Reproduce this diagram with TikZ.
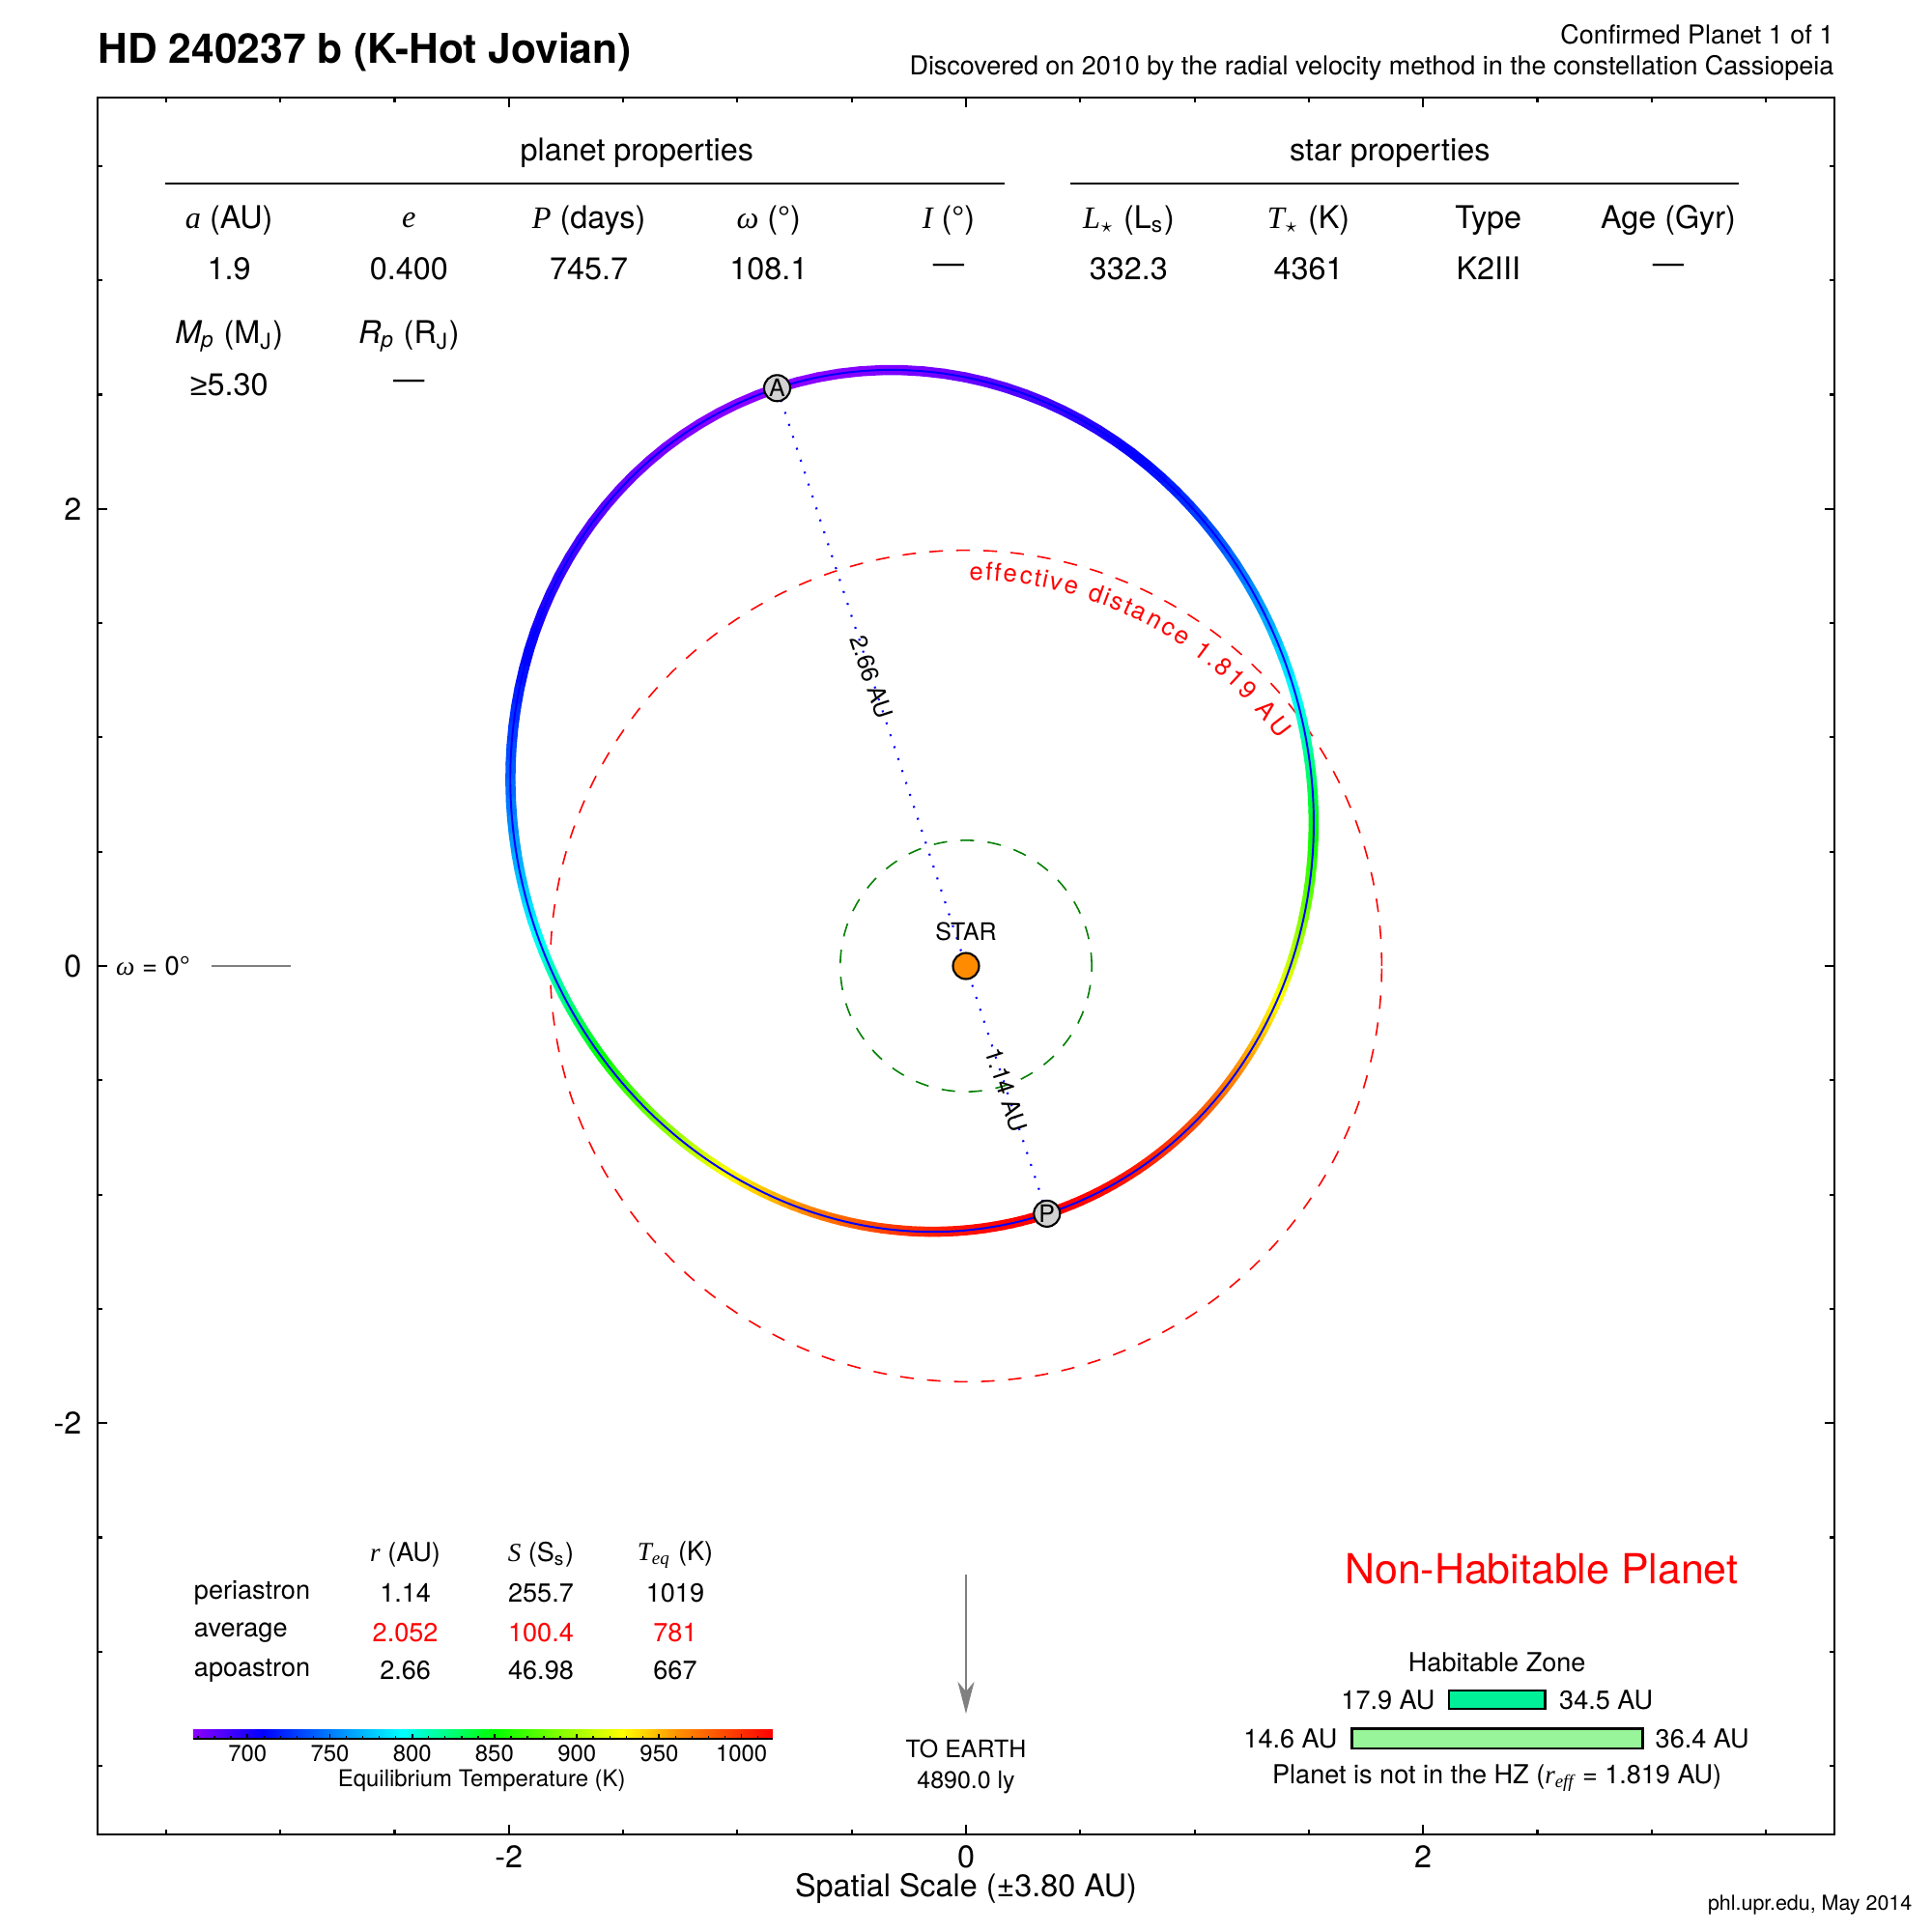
\documentclass[tikz,border=0pt]{standalone}
\usepackage{fontspec}
\setmainfont{TeX Gyre Heros}
\newfontfamily\tms{Liberation Serif}
\newfontfamily\lsans{Liberation Sans}
\usetikzlibrary{arrows.meta,decorations.text}
\newcommand{\tvar}[1]{{\tms\itshape #1}}
\definecolor{hzin}{rgb}{0,0.94,0.6}
\definecolor{hzout}{rgb}{0.6,0.96,0.6}
\definecolor{starorange}{rgb}{1,0.55,0}
\definecolor{dashgreen}{rgb}{0,0.5,0}
\pgfdeclarehorizontalshading{tempbar}{100bp}{rgb(0bp)=(0.55,0,1); rgb(25bp)=(0.55,0,1); rgb(31bp)=(0,0,1); rgb(43bp)=(0,1,1); rgb(51bp)=(0,1,0); rgb(62bp)=(1,1,0); rgb(67bp)=(1,0.55,0); rgb(75bp)=(1,0,0); rgb(100bp)=(1,0,0)}
\begin{document}
\begin{tikzpicture}
\tikzstyle{every node}=[inner sep=0pt]
\tikzstyle{txtL}=[font=\fontsize{9.2}{11}\selectfont]
\tikzstyle{txtM}=[font=\fontsize{7.7}{9}\selectfont]
\tikzstyle{txtS}=[font=\fontsize{7.1}{8.5}\selectfont]
\tikzstyle{txtXS}=[font=\fontsize{6.8}{8}\selectfont]
\tikzstyle{tick}=[line width=0.6pt]
\tikzstyle{band}=[line width=0.105cm,line cap=round]
\tikzstyle{orbitline}=[blue,line width=0.55pt]
\tikzstyle{effdash}=[red,line width=0.45pt,dash pattern=on 0.14cm off 0.14cm]
\tikzstyle{innerdash}=[dashgreen,line width=0.45pt,dash pattern=on 0.14cm off 0.14cm]
\tikzstyle{apline}=[blue,line width=0.6pt,dash pattern=on 0.02cm off 0.11cm]
\tikzstyle{marker}=[circle,draw,fill=gray!35,line width=0.6pt,minimum size=0.27cm,font=\fontsize{7.1}{8.5}\selectfont]
\tikzstyle{starball}=[circle,draw,fill=starorange,line width=0.6pt,minimum size=0.27cm]
\tikzstyle{hzbox}=[draw,line width=0.8pt]
\useasboundingbox (-10,-10) rectangle (10,10);
\fill[white] (-10,-10) rectangle (10,10);
\draw[line width=0.75pt] (-8.99,-8.99) rectangle (8.99,8.99);
\foreach \t in {-8.281,-7.098,-5.915,-3.549,-2.366,-1.183,1.183,2.366,3.549,5.915,7.098,8.281}{
\draw[tick] (\t,-8.99) -- ++(0,0.05);
\draw[tick] (\t,8.99) -- ++(0,-0.05);
\draw[tick] (-8.99,\t) -- ++(0.05,0);
\draw[tick] (8.99,\t) -- ++(-0.05,0);
}
\foreach \t in {-4.732,0,4.732}{
\draw[tick] (\t,-8.99) -- ++(0,0.1);
\draw[tick] (\t,8.99) -- ++(0,-0.1);
\draw[tick] (-8.99,\t) -- ++(0.1,0);
\draw[tick] (8.99,\t) -- ++(-0.1,0);
}
\path (-4.732,-9.22) node[txtL] (x0) {-2};
\path (0,-9.22) node[txtL] (x1) {0};
\path (4.732,-9.22) node[txtL] (x2) {2};
\path (-9.15,4.732) node[txtL,anchor=east] (y0) {2};
\path (-9.15,0) node[txtL,anchor=east] (y1) {0};
\path (-9.15,-4.732) node[txtL,anchor=east] (y2) {-2};
\path (0,-9.553) node[txtL] (x3) {Spatial Scale (±3.80 AU)};
\path (9.80,-9.72) node[anchor=east,font=\fontsize{6.1}{7}\selectfont] (f0) {phl.upr.edu, May 2014};
\path (-8.99,9.464) node[anchor=west,font=\fontsize{12.1}{14}\selectfont\bfseries] (t0) {HD 240237 b (K-Hot Jovian)};
\path (8.99,9.643) node[anchor=east,font=\fontsize{7.67}{9}\selectfont] (t1) {Confirmed Planet 1 of 1};
\path (8.99,9.298) node[anchor=east,font=\fontsize{7.67}{9}\selectfont] (t2) {Discovered on 2010 by the radial velocity method in the constellation Cassiopeia};
\path (-3.406,8.418) node[txtL] (p0) {planet properties};
\draw[line width=0.75pt] (-8.29,8.10) -- (0.40,8.10);
\path (4.388,8.418) node[txtL] (s0) {star properties};
\draw[line width=0.75pt] (1.084,8.10) -- (7.997,8.10);
\path (-7.628,7.717) node[txtL] (p1) {\tvar{a} (AU)};
\path (-5.766,7.717) node[txtL] (p2) {\tvar{e}};
\path (-3.904,7.717) node[txtL] (p3) {\tvar{P} (days)};
\path (-2.042,7.717) node[txtL] (p4) {\tvar{ω} (°)};
\path (-0.180,7.717) node[txtL] (p5) {\tvar{I} (°)};
\path (-7.628,7.22) node[txtL] (p6) {1.9};
\path (-5.766,7.22) node[txtL] (p7) {0.400};
\path (-3.904,7.22) node[txtL] (p8) {745.7};
\path (-2.042,7.22) node[txtL] (p9) {108.1};
\path (-0.180,7.22) node[txtL] (p10) {—};
\path (-7.628,6.518) node[txtL] (p11) {{\itshape M\textsubscript{p}} (M\textsubscript{J})};
\path (-5.766,6.518) node[txtL] (p12) {{\itshape R\textsubscript{p}} (R\textsubscript{J})};
\path (-7.628,6.02) node[txtL] (p13) {{\lsans ≥}5.30};
\path (-5.766,6.02) node[txtL] (p14) {—};
\path (1.684,7.717) node[txtL] (s1) {\tvar{L}\textsubscript{$\star$} (L\textsubscript{s})};
\path (3.546,7.717) node[txtL] (s2) {\tvar{T}\textsubscript{$\star$} (K)};
\path (5.408,7.717) node[txtL] (s3) {Type};
\path (7.270,7.717) node[txtL] (s4) {Age (Gyr)};
\path (1.684,7.22) node[txtL] (s5) {332.3};
\path (3.546,7.22) node[txtL] (s6) {4361};
\path (5.408,7.22) node[txtL] (s7) {K2III};
\path (7.270,7.22) node[txtL] (s8) {—};
\path (-8.415,0) node[font=\fontsize{7.8}{9}\selectfont] (w0) {\tvar{ω} = 0°};
\draw[gray,line width=0.6pt] (-7.81,0) -- (-6.99,0);
\begin{scope}[x=2.366cm,y=2.366cm]
\draw[effdash] (0,0) circle (1.819);
\draw[innerdash] (0,0) circle (0.55);
\path[decorate,decoration={text effects along path,text={effective distance 1.819 AU},text effects/.cd,text along path,fit text to path,characters={text=red,font=\fontsize{7.3}{9}\selectfont}}] (89.5:1.69) arc[start angle=89.5,end angle=36,radius=1.69];
\foreach \k in {0,...,179}{
\pgfmathsetmacro\na{2*\k-71.9}
\pgfmathsetmacro\nb{2*\k-69.9}
\pgfmathsetmacro\rA{1.596/(1+0.4*cos(2*\k))}
\pgfmathsetmacro\rB{1.596/(1+0.4*cos(2*\k+2))}
\pgfmathsetmacro\ff{max(0,min(1,(1019*sqrt(2.28/(\rA+\rB))-667)/352))}
\pgfmathsetmacro\colr{max(0,min(1,\ff<0.12 ? 0.55*(1-\ff/0.12) : (\ff<0.52 ? 0 : (\ff<0.74 ? (\ff-0.52)/0.22 : 1))))}
\pgfmathsetmacro\colg{max(0,min(1,\ff<0.12 ? 0 : (\ff<0.36 ? (\ff-0.12)/0.24 : (\ff<0.74 ? 1 : (\ff<0.84 ? 1-0.45*(\ff-0.74)/0.10 : 0.55*(1-\ff)/0.16)))))}
\pgfmathsetmacro\colb{max(0,min(1,\ff<0.36 ? 1 : (\ff<0.52 ? 1-(\ff-0.36)/0.16 : 0)))}
\definecolor{segcol}{rgb}{\colr,\colg,\colb}
\draw[band,segcol] (\na:\rA) -- (\nb:\rB);
}
\draw[orbitline,shift={(-0.2362,0.7225)},rotate=108.1] (0,0) ellipse (1.9 and 1.7413);
\coordinate (apo) at (108.1:2.66);
\coordinate (peri) at (-71.9:1.14);
\draw[apline] (apo) -- (peri);
\path (0,0) node[starball] (star) {};
\path (0,0.151) node[txtS] (v0) {STAR};
\path (apo) node[marker] (A) {A};
\path (peri) node[marker] (P) {P};
\path (star.center) -- (apo) node[midway,sloped,txtS] (v1) {2.66 AU};
\path (star.center) -- (peri) node[midway,sloped,txtS] (v2) {1.14 AU};
\end{scope}
\path (-5.804,-6.097) node[txtM] (h1) {\tvar{r} (AU)};
\path (-4.400,-6.097) node[txtM] (h2) {\tvar{S} (S\textsubscript{s})};
\path (-3.010,-6.097) node[txtM] (h3) {\tvar{T\textsubscript{eq}} (K)};
\path (-7.997,-6.492) node[txtM,anchor=west] (r0) {periastron};
\path (-7.997,-6.900) node[txtM,anchor=west] (r1) {average};
\path (-7.997,-7.296) node[txtM,anchor=west] (r2) {apoastron};
\path (-5.804,-6.492) node[txtM] (r3) {1.14};
\path (-4.400,-6.492) node[txtM] (r4) {255.7};
\path (-3.010,-6.492) node[txtM] (r5) {1019};
\path (-5.804,-6.900) node[txtM,red] (r6) {2.052};
\path (-4.400,-6.900) node[txtM,red] (r7) {100.4};
\path (-3.010,-6.900) node[txtM,red] (r8) {781};
\path (-5.804,-7.296) node[txtM] (r9) {2.66};
\path (-4.400,-7.296) node[txtM] (r10) {46.98};
\path (-3.010,-7.296) node[txtM] (r11) {667};
\shade[shading=tempbar] (-8,-7.90) rectangle (-2,-7.997);
\draw[line width=0.6pt] (-8,-7.997) -- (-2,-7.997);
\foreach \T in {670,680,...,1010}{
\draw[line width=0.4pt] ({-8+(\T-667)/352*6},-7.997) -- ++(0,0.025);
}
\foreach \T in {700,750,...,1000}{
\draw[line width=0.5pt] ({-8+(\T-667)/352*6},-7.997) -- ++(0,0.045);
}
\path (-7.4375,-8.15) node[txtXS] (c0) {700};
\path (-6.585,-8.15) node[txtXS] (c1) {750};
\path (-5.733,-8.15) node[txtXS] (c2) {800};
\path (-4.881,-8.15) node[txtXS] (c3) {850};
\path (-4.028,-8.15) node[txtXS] (c4) {900};
\path (-3.176,-8.15) node[txtXS] (c5) {950};
\path (-2.324,-8.15) node[txtXS] (c6) {1000};
\path (-5.013,-8.43) node[txtXS] (c7) {Equilibrium Temperature (K)};
\coordinate (e0) at (0,-6.30);
\coordinate (e1) at (0,-7.74);
\draw[gray,line width=0.8pt,-{Stealth[length=0.33cm,width=0.17cm,inset=0.1cm]}] (e0) -- (e1);
\path (0,-8.10) node[txtS] (e2) {TO EARTH};
\path (0,-8.456) node[txtS] (e3) {4890.0 ly};
\path (8.0,-6.237) node[anchor=east,red,font=\fontsize{12.2}{14}\selectfont] (n0) {Non-Habitable Planet};
\path (5.497,-7.207) node[txtM] (z0) {Habitable Zone};
\draw[hzbox,fill=hzin] (5.0,-7.5) rectangle (5.995,-7.69);
\draw[hzbox,fill=hzout] (3.992,-7.895) rectangle (7.002,-8.10);
\path (4.86,-7.60) node[txtM,anchor=east] (z1) {17.9 AU};
\path (6.135,-7.60) node[txtM,anchor=west] (z2) {34.5 AU};
\path (3.85,-8.0) node[txtM,anchor=east] (z3) {14.6 AU};
\path (7.13,-8.0) node[txtM,anchor=west] (z4) {36.4 AU};
\path (5.497,-8.405) node[txtM] (z5) {Planet is not in the HZ (\tvar{r\textsubscript{eff}} = 1.819 AU)};
\end{tikzpicture}
\end{document}
